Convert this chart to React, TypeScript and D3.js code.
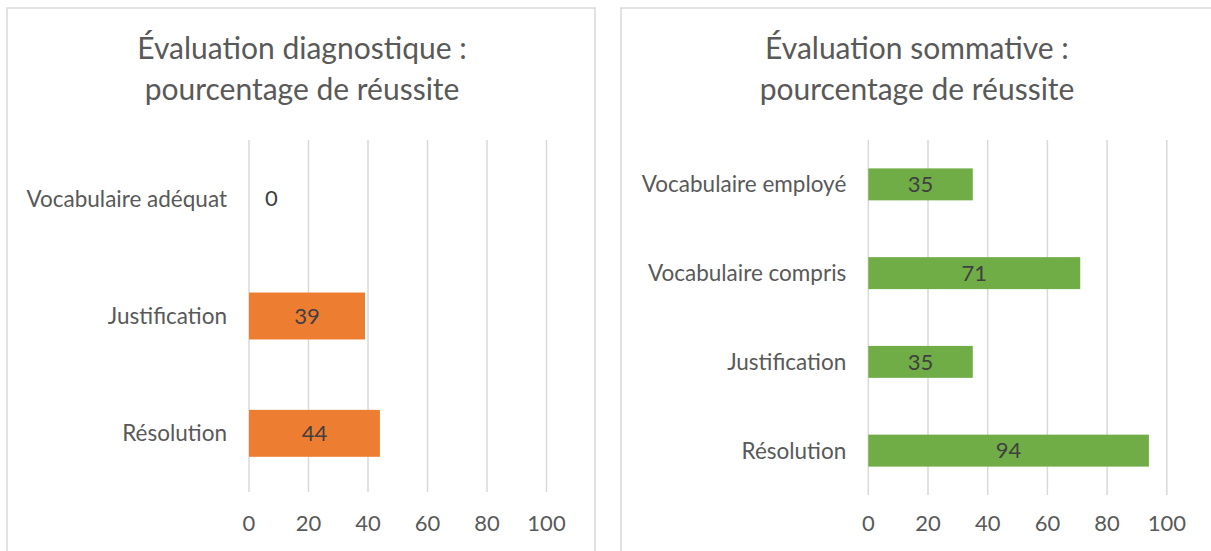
import React from "react";
import * as d3 from "d3";

// chart data
const diagCategories = ["Vocabulaire adéquat", "Justification", "Résolution"];
const diagValues = [0, 39, 44];
const diagTitle = ["Évaluation diagnostique :", "pourcentage de réussite"];

const sommCategories = [
  "Vocabulaire employé",
  "Vocabulaire compris",
  "Justification",
  "Résolution",
];
const sommValues = [35, 71, 35, 94];
const sommTitle = ["Évaluation sommative :", "pourcentage de réussite"];

const xTicks = [0, 20, 40, 60, 80, 100];

const FONT = "Lato, 'Open Sans', sans-serif";
const GRID = "#d9d9d9";
const LABEL = "#595959";
const DATA_LABEL = "#404040";

interface PanelProps {
  categories: string[];
  values: number[];
  title: string[];
  color: string;
  frame: { left: number; right: number; top: number };
  plot: { left: number; right: number; top: number; bottom: number };
  titleX: number;
  padding: number; // band padding (Excel gap width)
}

const BarPanel: React.FC<PanelProps> = ({
  categories,
  values,
  title,
  color,
  frame,
  plot,
  titleX,
  padding,
}) => {
  const x = d3.scaleLinear().domain([0, 100]).range([plot.left, plot.right]);
  const y = d3
    .scaleBand<string>()
    .domain(categories)
    .range([plot.top, plot.bottom])
    .paddingInner(padding)
    .paddingOuter(padding / 2);

  return (
    <g>
      <rect
        x={frame.left}
        y={frame.top}
        width={frame.right - frame.left}
        height={600}
        fill="#fff"
        stroke={GRID}
        strokeWidth={1.5}
      />
      {title.map((line, i) => (
        <text
          key={i}
          x={titleX}
          y={59 + i * 41}
          textAnchor="middle"
          fontFamily={FONT}
          fontSize={30}
          fill={LABEL}
        >
          {line}
        </text>
      ))}
      {/* vertical gridlines */}
      {xTicks.map((t) => (
        <line
          key={t}
          x1={x(t)}
          x2={x(t)}
          y1={plot.top}
          y2={plot.bottom}
          stroke={GRID}
          strokeWidth={1.5}
        />
      ))}
      {xTicks.map((t) => (
        <text
          key={"t" + t}
          x={x(t)}
          y={531}
          textAnchor="middle"
          fontFamily={FONT}
          fontSize={22}
          fill={LABEL}
        >
          {t}
        </text>
      ))}
      {categories.map((c, i) => {
        const cy = (y(c) as number) + y.bandwidth() / 2;
        const v = values[i];
        return (
          <g key={c}>
            <text
              x={plot.left - 22}
              y={cy}
              dy="0.35em"
              textAnchor="end"
              fontFamily={FONT}
              fontSize={22.5}
              fill={LABEL}
            >
              {c}
            </text>
            <rect
              x={x(0)}
              y={y(c)}
              width={x(v) - x(0)}
              height={y.bandwidth()}
              fill={color}
            />
            <text
              x={v === 0 ? x(0) + 16 : (x(0) + x(v)) / 2}
              y={cy}
              dy="0.35em"
              textAnchor={v === 0 ? "start" : "middle"}
              fontFamily={FONT}
              fontSize={22}
              fill={DATA_LABEL}
            >
              {v}
            </text>
          </g>
        );
      })}
    </g>
  );
};

export default function App() {
  return (
    <svg
      width={1211}
      height={551}
      style={{ position: "absolute", left: 0, top: 0, background: "#fff" }}
    >
      <rect width={1211} height={551} fill="#fff" />
      <BarPanel
        categories={diagCategories}
        values={diagValues}
        title={diagTitle}
        color="#ED7D31"
        frame={{ left: 7, right: 595, top: 8 }}
        plot={{ left: 249, right: 546.5, top: 140, bottom: 492 }}
        titleX={302}
        padding={0.6}
      />
      <BarPanel
        categories={sommCategories}
        values={sommValues}
        title={sommTitle}
        color="#70AD47"
        frame={{ left: 621, right: 1225, top: 8 }}
        plot={{ left: 868.3, right: 1166.8, top: 140, bottom: 495 }}
        titleX={917}
        padding={0.64}
      />
    </svg>
  );
}
